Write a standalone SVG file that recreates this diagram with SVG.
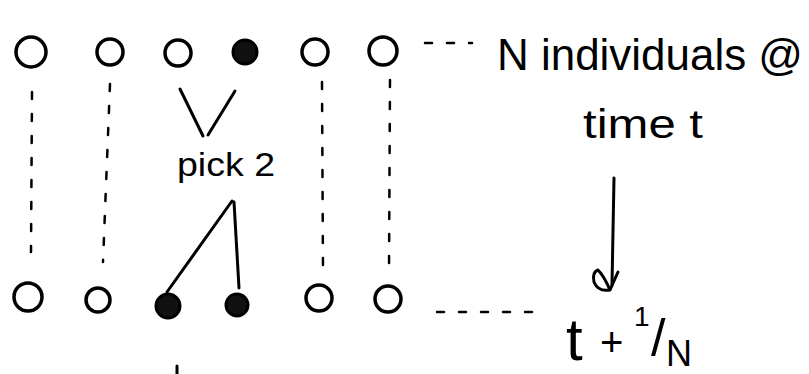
<svg xmlns="http://www.w3.org/2000/svg" width="809" height="374" viewBox="0 0 809 374">
<style>
.n{fill:none;stroke:#000;stroke-width:3.5}
.f{fill:#111;stroke:#000;stroke-width:3}
.c{fill:none;stroke:#000;stroke-width:3;stroke-linecap:round;stroke-linejoin:round}
.d{fill:none;stroke:#000;stroke-width:2.5;stroke-dasharray:7 15;stroke-linecap:round}
.t{font-family:"Liberation Sans",Arial,sans-serif;fill:#000}
</style>
<rect width="809" height="374" fill="#fff"/>
<g id="connectors">
<path class="d" d="M32 92 L31 252"/>
<path class="d" d="M110 84 L103 262"/>
<path class="d" d="M322 82 L323 272"/>
<path class="d" d="M390 80 L389 272"/>
<path class="d" d="M425 43 L472 43"/>
<path class="d" d="M437 312 L532 312"/>
<path class="c" d="M180 89 L203 136 M235 91 L208 135"/>
<path class="c" d="M232 201 L167 292 M234 202 L239 288"/>
<path class="c" d="M614 178 L612 285"/>
<path class="c" d="M618 272 L610 290 Q598 292 594 282 Q592 272 598 270 Q604 276 610 290"/>
<path class="c" d="M177 366 L177 374"/>
</g>
<g id="top-1"><circle class="n" cx="31" cy="52" r="15"/></g>
<g id="top-2"><circle class="n" cx="110" cy="52" r="13"/></g>
<g id="top-3"><circle class="n" cx="178" cy="53" r="13"/></g>
<g id="top-4"><circle class="f" cx="245" cy="52" r="12"/></g>
<g id="top-5"><circle class="n" cx="315" cy="52" r="13"/></g>
<g id="top-6"><circle class="n" cx="383" cy="51" r="14"/></g>
<g id="bot-1"><circle class="n" cx="28" cy="297" r="14"/></g>
<g id="bot-2"><circle class="n" cx="98" cy="300" r="12"/></g>
<g id="bot-3"><circle class="f" cx="168" cy="306" r="12"/></g>
<g id="bot-4"><circle class="f" cx="237" cy="305" r="11"/></g>
<g id="bot-5"><circle class="n" cx="319" cy="298" r="13"/></g>
<g id="bot-6"><circle class="n" cx="388" cy="299" r="13"/></g>
<g id="label-top">
<text class="t" x="497" y="70" font-size="44" textLength="306" lengthAdjust="spacingAndGlyphs">N individuals @</text>
<text class="t" x="583" y="138" font-size="40" textLength="120" lengthAdjust="spacingAndGlyphs">time t</text>
</g>
<g id="label-pick"><text class="t" x="177" y="176" font-size="34" textLength="98" lengthAdjust="spacingAndGlyphs">pick 2</text></g>
<g id="label-bottom">
<text class="t" x="566" y="360" font-size="60">t</text>
<text class="t" x="600" y="356" font-size="40">+</text>
<text class="t" x="634" y="326" font-size="28">1</text>
<text class="t" x="651" y="356" font-size="52">/</text>
<text class="t" x="666" y="366" font-size="36">N</text>
</g>
</svg>
